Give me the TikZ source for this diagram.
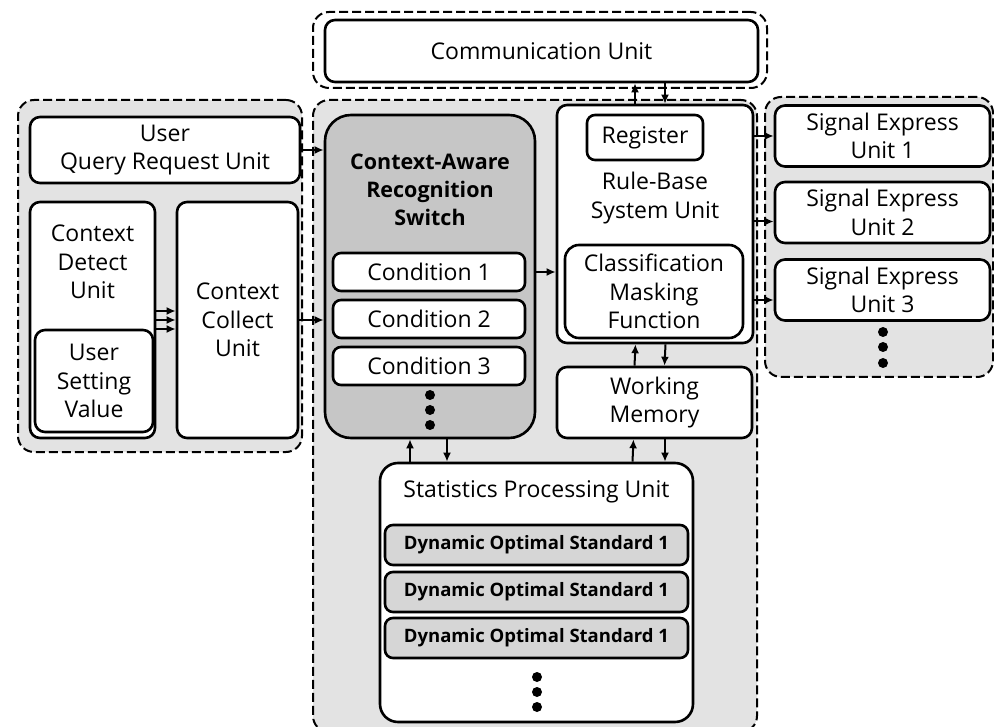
\documentclass[tikz,border=0pt]{standalone}
\usepackage{fontspec}
\setmainfont{Open Sans}
\usetikzlibrary{arrows.meta,calc}
\begin{document}
\begin{tikzpicture}[x=1pt,y=-1pt,
  box/.style={draw, line width=2.6pt, rounded corners=10pt, fill=white, inner sep=0pt, align=center, font=\fontsize{23}{28.5}\selectfont},
  grp/.style={draw, line width=2pt, dash pattern=on 9pt off 4pt, rounded corners=16pt, inner sep=0pt},
  shaded/.style={fill=gray!22},
  arr/.style={line width=2pt, -{Latex[length=9pt,width=8pt]}},
  txt/.style={align=center, inner sep=0pt, font=\fontsize{23}{28.5}\selectfont},
  bdot/.style={circle, fill=black, inner sep=0pt, minimum size=10pt},
  dosbox/.style={box, fill=gray!32, rounded corners=8pt, minimum width=303pt, minimum height=40pt, font=\fontsize{18.5}{20}\selectfont\bfseries},
  condbox/.style={box, rounded corners=8pt, minimum width=192pt, minimum height=38pt},
  seubox/.style={box, minimum width=215pt, minimum height=61pt},
]
\useasboundingbox (0,0) rectangle (994,727);
\clip (0,0) rectangle (994,727);

% groups
\node[grp, fill=white, minimum width=454pt, minimum height=76pt] (gcomm) at (540,50) {};
\node[grp, shaded, minimum width=284pt, minimum height=352pt] (gleft) at (160,276) {};
\node[grp, shaded, minimum width=444pt, minimum height=632pt] (gcenter) at (535,416) {};
\node[grp, shaded, minimum width=228pt, minimum height=280pt] (gright) at (879,237) {};

% communication
\node[box, minimum width=433pt, minimum height=62pt] (comm) at (541.5,51) {Communication Unit};

% left group
\node[box, minimum width=270pt, minimum height=66pt] (uqr) at (165,150) {User\\Query Request Unit};
\node[box, minimum width=125pt, minimum height=236pt] (detect) at (92.5,320) {};
\node[txt] (detecttxt) at (92.5,262) {Context\\Detect\\Unit};
\node[box, minimum width=118pt, minimum height=102pt] (usv) at (94,381) {User\\Setting\\Value};
\node[box, minimum width=121pt, minimum height=236pt] (collect) at (237.5,320) {Context\\Collect\\Unit};

% switch
\node[box, fill=gray!45, rounded corners=26pt, minimum width=210pt, minimum height=323pt] (switch) at (430,276.5) {};
\node[txt, font=\fontsize{21.5}{28}\selectfont\bfseries] (switchtxt) at (430,190) {Context-Aware\\Recognition\\Switch};
\node[condbox] (cond1) at (429,272) {Condition 1};
\node[condbox] (cond2) at (429,319) {Condition 2};
\node[condbox] (cond3) at (429,366) {Condition 3};
\node[bdot] (sd1) at (430,395) {};
\node[bdot] (sd2) at (430,410) {};
\node[bdot] (sd3) at (430,425) {};

% rule base
\node[box, minimum width=196pt, minimum height=238pt] (rb) at (655,224) {};
\node[box, rounded corners=8pt, minimum width=116pt, minimum height=45pt] (reg) at (645,137.5) {Register};
\node[txt] (rbtxt) at (655,198) {Rule-Base\\System Unit};
\node[box, rounded corners=14pt, minimum width=178pt, minimum height=93pt] (cmf) at (654,291.5) {Classification\\Masking\\Function};
\node[box, minimum width=195pt, minimum height=71pt] (wm) at (654.5,402.5) {Working\\Memory};

% statistics
\node[box, rounded corners=18pt, minimum width=313pt, minimum height=259pt] (stats) at (536.5,592.5) {};
\node[txt] (statstxt) at (536.5,492) {Statistics Processing Unit};
\node[dosbox] (dos1) at (536.5,545) {Dynamic Optimal Standard 1};
\node[dosbox] (dos2) at (536.5,592) {Dynamic Optimal Standard 1};
\node[dosbox] (dos3) at (536.5,638) {Dynamic Optimal Standard 1};
\node[bdot] (pd1) at (537,677) {};
\node[bdot] (pd2) at (537,692) {};
\node[bdot] (pd3) at (537,707) {};

% signal express
\node[seubox] (seu1) at (882.5,136) {Signal Express\\Unit 1};
\node[seubox] (seu2) at (882.5,212.5) {Signal Express\\Unit 2};
\node[seubox] (seu3) at (882.5,290) {Signal Express\\Unit 3};
\node[bdot] (ed1) at (883,332) {};
\node[bdot] (ed2) at (883,347) {};
\node[bdot] (ed3) at (883,363) {};

% arrows
\draw[arr] (uqr.east) -- (uqr.east -| switch.west);
\draw[arr] (collect.east) -- (collect.east -| switch.west);
\foreach \dy in {-9,0,9}
  \draw[arr] ($(detect.east)+(0,\dy)$) -- ($(detect.east -| collect.west)+(0,\dy)$);
\draw[arr] (cond1.east -| switch.east) -- (cond1.east -| rb.west);

\draw[arr] ($(rb.north)+(-20,0)$) -- ($(comm.south -| rb.north)+(-20,0)$);
\draw[arr] ($(comm.south -| rb.north)+(10,0)$) -- ($(rb.north)+(10,0)$);
\draw[arr] ($(wm.north)+(-20,0)$) -- ($(rb.south)+(-19.5,0)$);
\draw[arr] ($(rb.south)+(10.5,0)$) -- ($(wm.north)+(10,0)$);
\draw[arr] ($(stats.north)+(96,0)$) -- ($(wm.south)+(-21,0)$);
\draw[arr] ($(wm.south)+(10.5,0)$) -- ($(stats.north)+(128.5,0)$);
\draw[arr] ($(stats.north)+(-126.5,0)$) -- ($(switch.south)+(-20,0)$);
\draw[arr] ($(switch.south)+(17,0)$) -- ($(stats.north)+(-89.5,0)$);

\draw[arr] (rb.east |- seu1.west) -- (seu1.west);
\draw[arr] ($(rb.east |- seu2.west)+(0,9)$) -- ($(seu2.west)+(0,9)$);
\draw[arr] ($(rb.east |- seu3.west)+(0,10)$) -- ($(seu3.west)+(0,10)$);
\end{tikzpicture}
\end{document}
